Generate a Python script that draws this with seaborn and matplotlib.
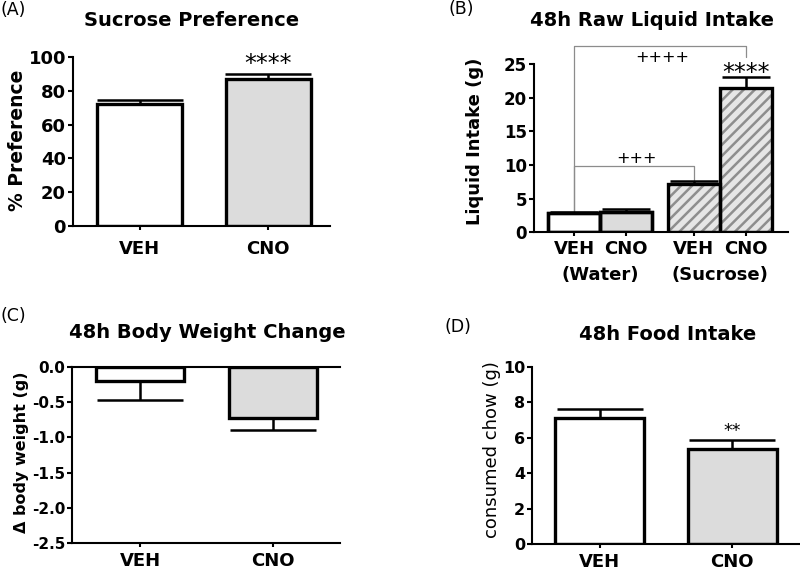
import matplotlib
matplotlib.use('Agg')
import matplotlib.pyplot as plt
import seaborn as sns
import pandas as pd

# ---------------- data ----------------
a_labels = ['VEH', 'CNO']
a_means = [72.2, 87.0]
a_sem = [2.6, 2.8]
a_yticks = [0, 20, 40, 60, 80, 100]
a_sig = '****'
a_sig_y = 92.0

b_groups = ['Water', 'Water', 'Sucrose', 'Sucrose']
b_treat = ['VEH', 'CNO', 'VEH', 'CNO']
b_means = [2.8, 3.05, 7.2, 21.5]
b_sem = [0.2, 0.45, 0.38, 1.55]
b_group_order = ['Water', 'Sucrose']
b_group_labels = ['(Water)', '(Sucrose)']
b_yticks = [0, 5, 10, 15, 20, 25]
b_sig = '****'
b_sig_y = 22.6
b_bracket_pairs = [(0, 3), (0, 2)]
b_bracket_y = [27.7, 9.85]
b_bracket_right_end = [26.0, 7.58]
b_bracket_text = ['++++', '+++']
b_bracket_text_y = [26.0, 11.0]

c_labels = ['VEH', 'CNO']
c_means = [-0.20, -0.73]
c_sem = [0.27, 0.16]
c_yticks = [0.0, -0.5, -1.0, -1.5, -2.0, -2.5]
c_yticklabels = ['0.0', '-0.5', '-1.0', '-1.5', '-2.0', '-2.5']

d_labels = ['VEH', 'CNO']
d_means = [7.13, 5.37]
d_sem = [0.49, 0.50]
d_yticks = [0, 2, 4, 6, 8, 10]
d_sig = '**'
d_sig_y = 6.07

# ---------------- style ----------------
sns.set_style('ticks')
plt.rcParams['font.family'] = ['DejaVu Sans']
plt.rcParams['axes.unicode_minus'] = False
plt.rcParams['hatch.linewidth'] = 1.8
for k in ['text.color', 'axes.labelcolor', 'xtick.color', 'ytick.color', 'axes.edgecolor']:
    plt.rcParams[k] = 'black'

W = 800
H = 571
fig = plt.figure(figsize=(8, 5.71), dpi=100)

def px_axes(l, r, t, b):
    return fig.add_axes([l / W, 1 - b / H, (r - l) / W, (b - t) / H])

axA = px_axes(73, 330, 57, 226)
axB = px_axes(534, 788, 64, 232.3)
axC = px_axes(72, 340, 366.7, 543.3)
axD = px_axes(532, 800, 366.7, 544.3)

EDGE = 2.4
GRAY = '#dcdcdc'
TICKFS = 13

def centers(ax):
    ps = sorted(ax.patches, key=lambda p: p.get_x())
    return ps, [p.get_x() + p.get_width() / 2 for p in ps]

def style_axis(ax, ysize):
    for s in ax.spines.values():
        s.set_linewidth(1.5)
        s.set_color('black')
    ax.tick_params(axis='x', width=1.5, length=3, labelsize=TICKFS, colors='black')
    ax.tick_params(axis='y', width=1.5, length=3.5, pad=1.5, labelsize=ysize,
                   colors='black')
    for lab in ax.get_xticklabels() + ax.get_yticklabels():
        lab.set_fontweight('bold')
    ax.set_xlabel('')
    ax.set_ylabel('')

# ---------- Panel A ----------
sns.barplot(x=a_labels, y=a_means, hue=a_labels, palette=['white', GRAY],
            legend=False, width=0.66, edgecolor='black', linewidth=EDGE,
            saturation=1, errorbar=None, ax=axA)
_, cx = centers(axA)
axA.errorbar(cx, a_means, yerr=[[0] * len(a_sem), a_sem], fmt='none',
             ecolor='black', elinewidth=1.8, capsize=31, capthick=1.8, zorder=1)
axA.set_xlim(-0.52, 1.48)
axA.set_ylim(0, 100)
axA.set_yticks(a_yticks)
axA.set_yticklabels([str(t) for t in a_yticks])
axA.set_xticks(cx)
axA.set_xticklabels(a_labels)
style_axis(axA, 13)
axA.tick_params(axis='x', pad=7)
sns.despine(ax=axA)
axA.text(cx[1], a_sig_y, a_sig, ha='center', va='baseline', fontsize=17)

# ---------- Panel B ----------
dfb = pd.DataFrame({'group': b_groups, 'treatment': b_treat, 'value': b_means})
sns.barplot(data=dfb, x='group', y='value', hue='treatment', order=b_group_order,
            hue_order=['VEH', 'CNO'], palette=['white', GRAY], width=0.867,
            errorbar=None, legend=False, edgecolor='black', linewidth=EDGE,
            saturation=1, ax=axB)
bps, bx = centers(axB)
for p in bps[2:]:
    p.set_facecolor('#e6e6e6')
    p.set_edgecolor('#8e8e8e')
    p.set_hatch('///')
    p.set_linewidth(0)
sns.barplot(data=dfb, x='group', y='value', hue='treatment', order=b_group_order,
            hue_order=['VEH', 'CNO'], palette=['black', 'black'], width=0.867,
            errorbar=None, legend=False, fill=False, linewidth=EDGE,
            saturation=1, ax=axB)
axB.errorbar(bx, b_means, yerr=[[0] * len(b_sem), b_sem], fmt='none',
             ecolor='black', elinewidth=1.8, capsize=17, capthick=1.8, zorder=1)
axB.set_xlim(-0.55, 1.567)
axB.set_ylim(0, 25)
axB.set_yticks(b_yticks)
axB.set_yticklabels([str(t) for t in b_yticks])
axB.set_xticks(bx)
axB.set_xticklabels(b_treat)
style_axis(axB, 12)
axB.tick_params(axis='x', pad=2.5)
sns.despine(ax=axB)
for gi, glab in enumerate(b_group_labels):
    axB.text(gi, -0.253, glab, transform=axB.get_xaxis_transform(), ha='center',
             va='center', fontsize=TICKFS, fontweight='bold')
axB.text(bx[3], b_sig_y, b_sig, ha='center', va='baseline', fontsize=17)
for (i, j), yb, yr, txt, ty in zip(b_bracket_pairs, b_bracket_y, b_bracket_right_end,
                                    b_bracket_text, b_bracket_text_y):
    yl = b_means[i] + b_sem[i]
    axB.plot([bx[i], bx[i], bx[j], bx[j]], [yl, yb, yb, yr], color='#8c8c8c',
             lw=0.9, clip_on=False, zorder=0.5)
    axB.text((bx[i] + bx[j]) / 2 + 0.02, ty, txt, ha='center', va='center',
             fontsize=11.5)

# ---------- Panel C ----------
sns.barplot(x=c_labels, y=c_means, hue=c_labels, palette=['white', GRAY],
            legend=False, width=0.66, edgecolor='black', linewidth=EDGE,
            saturation=1, errorbar=None, ax=axC)
_, ccx = centers(axC)
axC.errorbar(ccx, c_means, yerr=[c_sem, [0] * len(c_sem)], fmt='none',
             ecolor='black', elinewidth=1.8, capsize=31, capthick=1.8, zorder=1)
axC.set_xlim(-0.51, 1.5)
axC.set_ylim(-2.5, 0)
axC.set_yticks(c_yticks)
axC.set_yticklabels(c_yticklabels)
axC.set_xticks(ccx)
axC.set_xticklabels(c_labels)
style_axis(axC, 11)
axC.tick_params(axis='x', pad=3.5)
axC.spines['right'].set_visible(False)

# ---------- Panel D ----------
sns.barplot(x=d_labels, y=d_means, hue=d_labels, palette=['white', GRAY],
            legend=False, width=0.67, edgecolor='black', linewidth=EDGE,
            saturation=1, errorbar=None, ax=axD)
_, dx = centers(axD)
axD.errorbar(dx, d_means, yerr=[[0] * len(d_sem), d_sem], fmt='none',
             ecolor='black', elinewidth=1.8, capsize=31, capthick=1.8, zorder=1)
axD.set_xlim(-0.51, 1.51)
axD.set_ylim(0, 10)
axD.set_yticks(d_yticks)
axD.set_yticklabels([str(t) for t in d_yticks])
axD.set_xticks(dx)
axD.set_xticklabels(d_labels)
style_axis(axD, 11.5)
axD.tick_params(axis='x', pad=3.5)
sns.despine(ax=axD)
axD.text(dx[1], d_sig_y, d_sig, ha='center', va='baseline', fontsize=12.5)

# ---------- titles, labels ----------
def ftext(x, y, s, **kw):
    fig.text(x / W, 1 - y / H, s, **kw)

ftext(192, 20, 'Sucrose Preference', ha='center', va='center', fontsize=14, fontweight='bold')
ftext(652, 20, '48h Raw Liquid Intake', ha='center', va='center', fontsize=14, fontweight='bold')
ftext(207, 333, '48h Body Weight Change', ha='center', va='center', fontsize=14, fontweight='bold')
ftext(668, 335, '48h Food Intake', ha='center', va='center', fontsize=14, fontweight='bold')

ftext(0, 10, '(A)', ha='left', va='center', fontsize=12.5)
ftext(448, 9, '(B)', ha='left', va='center', fontsize=12.5)
ftext(0, 316, '(C)', ha='left', va='center', fontsize=12.5)
ftext(445, 327, '(D)', ha='left', va='center', fontsize=12.5)

ftext(18, 140, '% Preference', ha='center', va='center', rotation=90, fontsize=13.5, fontweight='bold')
ftext(475, 141, 'Liquid Intake (g)', ha='center', va='center', rotation=90, fontsize=13, fontweight='bold')
ftext(22, 452, 'Δ body weight (g)', ha='center', va='center', rotation=90, fontsize=11.5, fontweight='bold')
ftext(492, 450, 'consumed chow (g)', ha='center', va='center', rotation=90, fontsize=13, fontweight='medium')

fig.savefig('out.png', dpi=100)
